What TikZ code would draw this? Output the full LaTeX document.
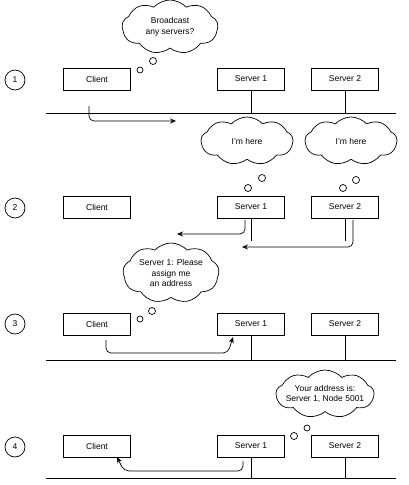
\documentclass[tikz,border=0pt]{standalone}
\usepackage{fontspec}
\setmainfont{Liberation Sans}
\usetikzlibrary{shapes.symbols,arrows.meta}
\tikzstyle{every node}=[inner sep=1pt,font=\fontsize{8.5}{10.5}\selectfont]
\tikzstyle{box}=[draw,line width=0.7pt,minimum width=67pt,minimum height=22pt]
\tikzstyle{num}=[draw,line width=0.7pt,circle,minimum size=20pt]
\tikzstyle{think}=[draw,line width=0.7pt,cloud,cloud puffs=9,cloud puff arc=95,cloud ignores aspect]
\tikzstyle{bubble}=[draw,line width=0.7pt,circle,inner sep=0pt,minimum size=7pt]
\tikzstyle{wire}=[line width=0.7pt]
\tikzstyle{msg}=[line width=0.7pt,-{Stealth[length=6pt,width=5pt]},rounded corners=5pt]

\begin{document}
\begin{tikzpicture}[x=1pt,y=-1pt]
  \useasboundingbox (0,0) rectangle (409,485);
  % 1
  \node[num] (n1) at (15,80) {1};
  \node[box] (c1) at (97,79) {Client};
  \node[box] (s11) at (251,79) {Server 1};
  \node[box] (s12) at (345,79) {Server 2};
  \coordinate (l1) at (46,113);
  \coordinate (r1) at (396,113);
  \draw[wire] (l1) -- (r1);
  \draw[wire] (s11.south) -- (s11.south |- l1);
  \draw[wire] (s12.south) -- (s12.south |- l1);
  \node[think,minimum width=96pt,minimum height=54pt] (k1) at (170,27) {};
  \node[align=center] at (k1) {Broadcast\\any servers?};
  \node[bubble] (b11) at (153,61) {};
  \node[bubble,minimum size=6pt] (b12) at (140,70) {};
  \coordinate (a1s) at (89,106);
  \coordinate (a1e) at (176,121);
  \draw[msg] (a1s) |- (a1e);
  % 2
  \node[num] (n2) at (15,208) {2};
  \node[box] (c2) at (97,207) {Client};
  \node[box] (s21) at (251,207) {Server 1};
  \node[box] (s22) at (345,207) {Server 2};
  \draw[wire] (s21.south) -- ++(0,23);
  \draw[wire] (s22.south) -- ++(0,23);
  \node[think,minimum width=92pt,minimum height=48pt] (k21) at (247,141) {};
  \node at (k21) {I'm here};
  \node[think,minimum width=92pt,minimum height=48pt] (k22) at (351,141) {};
  \node at (k22) {I'm here};
  \node[bubble] (b21) at (262,178) {};
  \node[bubble] (b22) at (248,188) {};
  \node[bubble] (b23) at (356,180) {};
  \node[bubble] (b24) at (343,188) {};
  \coordinate (a2s) at (245,220);
  \coordinate (a2e) at (177,234);
  \draw[msg] (a2s) |- (a2e);
  \coordinate (a3s) at (353,220);
  \coordinate (a3e) at (242,247);
  \draw[msg] (a3s) |- (a3e);
  % 3
  \node[num] (n3) at (15,324) {3};
  \node[box] (c3) at (97,324) {Client};
  \node[box] (s31) at (251,324) {Server 1};
  \node[box] (s32) at (345,324) {Server 2};
  \coordinate (l3) at (46,360);
  \coordinate (r3) at (396,360);
  \draw[wire] (l3) -- (r3);
  \draw[wire] (s31.south) -- (s31.south |- l3);
  \draw[wire] (s32.south) -- (s32.south |- l3);
  \node[think,minimum width=96pt,minimum height=60pt] (k3) at (171,273) {};
  \node[align=center] at (k3) {Server 1: Please\\assign me\\an address};
  \node[bubble] (b31) at (152,311) {};
  \node[bubble,minimum size=6pt] (b32) at (140,319) {};
  \coordinate (a4s) at (106,340);
  \coordinate (a4m) at (228,353);
  \coordinate (a4e) at (233,337);
  \draw[msg] (a4s) |- (a4m) -- (a4e);
  % 4
  \node[num] (n4) at (15,447) {4};
  \node[box] (c4) at (97,446) {Client};
  \node[box] (s41) at (251,446) {Server 1};
  \node[box] (s42) at (345,446) {Server 2};
  \coordinate (l4) at (46,478);
  \coordinate (r4) at (396,478);
  \draw[wire] (l4) -- (r4);
  \draw[wire] (s41.south) -- (s41.south |- l4);
  \draw[wire] (s42.south) -- (s42.south |- l4);
  \node[think,minimum width=98pt,minimum height=48pt] (k4) at (325,394) {};
  \node[align=center] at (k4) {Your address is:\\Server 1, Node 5001};
  \node[bubble,minimum size=6pt] (b41) at (307,428) {};
  \node[bubble] (b42) at (294,436) {};
  \coordinate (a5s) at (243,461);
  \coordinate (a5m) at (124,471);
  \coordinate (a5e) at (117,457);
  \draw[msg] (a5s) |- (a5m) -- (a5e);
\end{tikzpicture}
\end{document}
